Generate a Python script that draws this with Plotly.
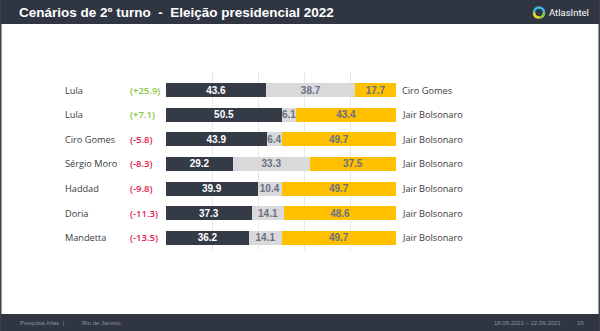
import plotly.graph_objects as go

# ---- data ----
left_names = ["Lula", "Lula", "Ciro Gomes", "Sérgio Moro", "Haddad", "Doria", "Mandetta"]
right_names = ["Ciro Gomes", "Jair Bolsonaro", "Jair Bolsonaro", "Jair Bolsonaro",
               "Jair Bolsonaro", "Jair Bolsonaro", "Jair Bolsonaro"]
left_vals = [43.6, 50.5, 43.9, 29.2, 39.9, 37.3, 36.2]
mid_vals = [38.7, 6.1, 6.4, 33.3, 10.4, 14.1, 14.1]
right_vals = [17.7, 43.4, 49.7, 37.5, 49.7, 48.6, 49.7]
grid_ticks = [0, 20, 40, 60, 80, 100]
title = "Cenários de 2º turno  -  Eleição presidencial 2022"
footer_left = "Pesquisa Atlas  |"
footer_place = "Rio de Janeiro"
footer_dates = "18.06.2021 – 22.06.2021"
footer_page = "19"

rows = list(range(len(left_names)))
DARK = "#353a47"
GREY = "#d9d9d9"
YEL = "#ffc000"
SLATE = "#697086"
W, H = 600, 331

fig = go.Figure()
bar_w = 0.57
common = dict(orientation="h", width=bar_w, textposition="inside", textangle=0,
              insidetextanchor="middle", constraintext="none",
              texttemplate="<b>%{x:.1f}</b>", hoverinfo="skip")
tf = "Liberation Sans, Arial"
fig.add_trace(go.Bar(y=rows, x=left_vals, marker=dict(color=DARK, line_width=0),
                     textfont=dict(color="white", size=10, family=tf), **common))
fig.add_trace(go.Bar(y=rows, x=mid_vals, marker=dict(color=GREY, line_width=0),
                     textfont=dict(color=SLATE, size=10, family=tf), **common))
fig.add_trace(go.Bar(y=rows, x=right_vals, marker=dict(color=YEL, line_width=0),
                     textfont=dict(color=SLATE, size=10, family=tf), **common))

x0, x1 = 166 / W, 396 / W
ytop, ybot = 71.5, 250.3
fig.update_layout(
    width=W, height=H, margin=dict(l=0, r=0, t=0, b=0),
    paper_bgcolor="white", plot_bgcolor="white",
    barmode="stack", showlegend=False, uniformtext=dict(mode=False),
    xaxis=dict(domain=[x0, x1], range=[0, 100], tickvals=grid_ticks, showticklabels=False,
               showgrid=True, gridcolor="#e8e8e8", gridwidth=1, zeroline=False, fixedrange=True),
    yaxis=dict(domain=[1 - ybot / H, 1 - ytop / H], range=[6.5, -0.75], showticklabels=False,
               showgrid=False, zeroline=False, fixedrange=True),
)

label_font = dict(family="Open Sans, Noto Sans", size=9.2, color="#3a3a3a")
for i in rows:
    fig.add_annotation(x=63 / W, xref="paper", y=i, yref="y", text=left_names[i],
                       xanchor="left", showarrow=False, font=label_font)
    fig.add_annotation(x=400 / W, xref="paper", y=i, yref="y", text=right_names[i],
                       xanchor="left", showarrow=False, font=label_font)
    margin = round(left_vals[i] - right_vals[i], 1)
    col = "#8cc63f" if margin > 0 else "#e3204f"
    txt = f"(+{margin:.1f})" if margin > 0 else f"({margin:.1f})"
    fig.add_annotation(x=128 / W, xref="paper", y=i, yref="y", text=txt,
                       xanchor="left", showarrow=False,
                       font=dict(family="Open Sans, Noto Sans", size=9.5, color=col, weight=600))

# header and footer bands, side borders
HDR = "#2f3541"
fig.add_shape(type="rect", xref="paper", yref="paper", x0=0, x1=1, y0=1 - 24 / H, y1=1,
              fillcolor=HDR, line_width=0, layer="below")
fig.add_shape(type="rect", xref="paper", yref="paper", x0=0, x1=1, y0=0, y1=17 / H,
              fillcolor=HDR, line_width=0, layer="below")
fig.add_shape(type="rect", xref="paper", yref="paper", x0=0, x1=1.5 / W, y0=0, y1=1,
              fillcolor="#3a3f4b", line_width=0)
fig.add_shape(type="rect", xref="paper", yref="paper", x0=1 - 1.5 / W, x1=1, y0=0, y1=1,
              fillcolor="#3a3f4b", line_width=0)

fig.add_annotation(x=17 / W, xref="paper", y=1 - 12 / H, yref="paper", text=f"<b>{title}</b>",
                   xanchor="left", yanchor="middle", showarrow=False,
                   font=dict(family="Liberation Sans, Arial", size=13.5, color="white"))

# logo
cx, cy, r = 539 / W, 1 - 12.5 / H, 5
fig.add_shape(type="circle", xref="paper", yref="paper",
              x0=cx - r / W, x1=cx + r / W, y0=cy - r / H, y1=cy + r / H,
              line=dict(color="#3cb8e6", width=2.5), fillcolor=HDR)
fig.add_shape(type="path", xref="paper", yref="paper",
              path=f"M {cx - r / W} {cy} Q {cx - r / W} {cy - r / H} {cx} {cy - r / H}",
              line=dict(color="#f2d21b", width=2.5))
fig.add_shape(type="path", xref="paper", yref="paper",
              path=f"M {cx} {cy - r / H} Q {cx + r / W} {cy - r / H} {cx + r / W} {cy}",
              line=dict(color="#8cc63f", width=2.5))
fig.add_annotation(x=547 / W, xref="paper", y=1 - 12.5 / H, yref="paper", text="AtlasIntel",
                   xanchor="left", yanchor="middle", showarrow=False,
                   font=dict(family="Roboto, Liberation Sans", size=9.5, color="white"))

ff = dict(family="Liberation Sans, Arial", size=6, color="#8a909c")
fy = 8 / H
fig.add_annotation(x=18 / W, xref="paper", y=fy, yref="paper", text=footer_left,
                   xanchor="left", yanchor="middle", showarrow=False, font=ff)
fig.add_annotation(x=80 / W, xref="paper", y=fy, yref="paper", text=footer_place,
                   xanchor="left", yanchor="middle", showarrow=False, font=ff)
fig.add_annotation(x=492 / W, xref="paper", y=fy, yref="paper", text=footer_dates,
                   xanchor="left", yanchor="middle", showarrow=False, font=ff)
fig.add_annotation(x=575 / W, xref="paper", y=fy, yref="paper", text=footer_page,
                   xanchor="left", yanchor="middle", showarrow=False, font=ff)

fig.write_html("out.html", config={"displayModeBar": False})
